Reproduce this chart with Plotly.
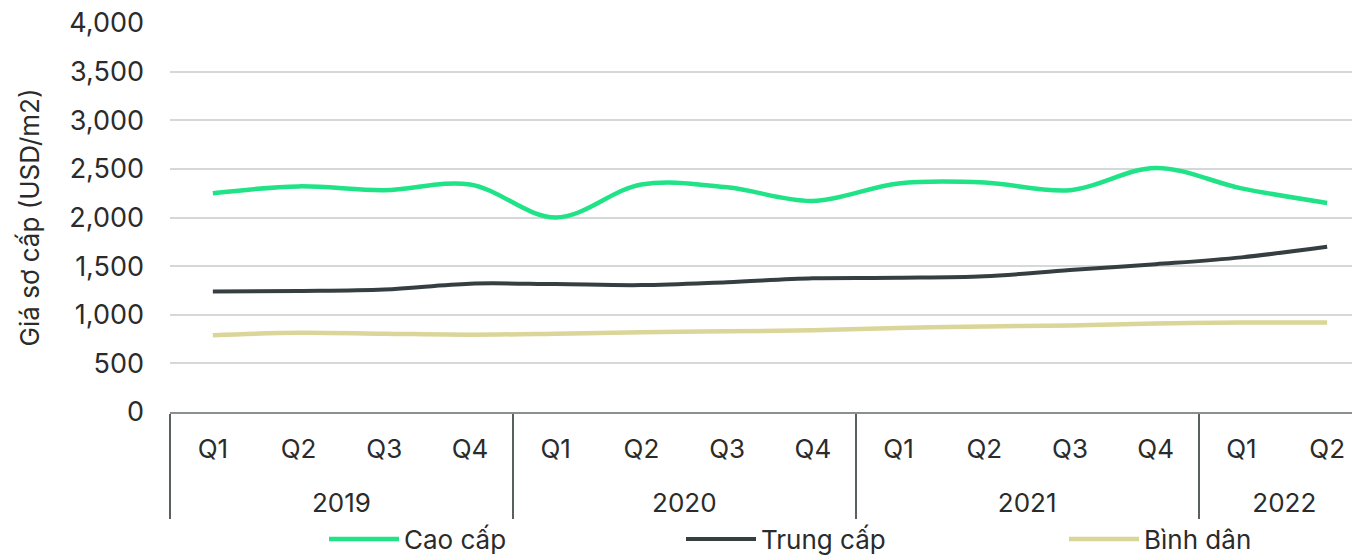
import plotly.graph_objects as go

# Quarterly primary prices (USD/m2) by segment
years = ["2019"] * 4 + ["2020"] * 4 + ["2021"] * 4 + ["2022"] * 2
quarters = ["Q1", "Q2", "Q3", "Q4"] * 3 + ["Q1", "Q2"]

cao_cap = [2250, 2320, 2280, 2340, 2000, 2340, 2310, 2170, 2350, 2360, 2280, 2510, 2300, 2150]
trung_cap = [1240, 1245, 1260, 1320, 1315, 1305, 1335, 1375, 1380, 1395, 1460, 1520, 1590, 1700]
binh_dan = [790, 815, 805, 795, 805, 820, 830, 840, 865, 880, 890, 910, 920, 920]

PLOT_L, PLOT_W = 170, 1182
PLOT_B, PLOT_H = 412, 389

series = [
    ("Cao cấp", cao_cap, "#1fe386", 4.5, "legend", 324),
    ("Trung cấp", trung_cap, "#353f41", 4, "legend2", 681),
    ("Bình dân", binh_dan, "#dad598", 4.5, "legend3", 1064),
]

font_family = "Inter, Roboto, sans-serif"
text_color = "#2b2b2b"

# year labels sit on a second line below the quarter row
year_labels = ["<br>" + y for y in years]

fig = go.Figure()
legends = {}
for name, vals, color, width, leg, lx in series:
    fig.add_trace(go.Scatter(
        x=[year_labels, quarters],
        y=vals,
        name=name,
        mode="lines",
        legend=leg,
        line=dict(color=color, width=width, shape="spline", smoothing=1),
    ))
    legends[leg] = dict(
        orientation="h",
        x=(lx - PLOT_L) / PLOT_W,
        xanchor="left",
        y=(PLOT_B - 539) / PLOT_H,
        yanchor="middle",
        itemwidth=70,
        font=dict(size=26, color=text_color),
        bgcolor="rgba(0,0,0,0)",
    )

fig.update_layout(
    width=1352,
    height=556,
    margin=dict(l=PLOT_L, r=0, t=23, b=556 - PLOT_B, autoexpand=False),
    paper_bgcolor="white",
    plot_bgcolor="white",
    font=dict(family=font_family, size=24, color=text_color),
    showlegend=True,
    **legends,
    xaxis=dict(
        type="multicategory",
        range=[-0.5, 13.29],
        showgrid=False,
        showline=True,
        linecolor="#8a8f8f",
        linewidth=2,
        ticks="",
        ticklabelstandoff=13,
        showdividers=True,
        dividercolor="#5a5f5f",
        dividerwidth=2,
        tickfont=dict(size=26, color=text_color),
    ),
    yaxis=dict(
        range=[0, 4000],
        tickvals=[0, 500, 1000, 1500, 2000, 2500, 3000, 3500, 4000],
        tickformat=",",
        showgrid=True,
        gridcolor="#d5d8d8",
        gridwidth=2,
        zeroline=False,
        showline=False,
        ticks="",
        ticklabelstandoff=25,
        tickfont=dict(size=27, color=text_color),
        title=dict(text="Giá sơ cấp (USD/m2)", font=dict(size=26, color=text_color), standoff=22),
    ),
)

fig.write_html("out.html")
